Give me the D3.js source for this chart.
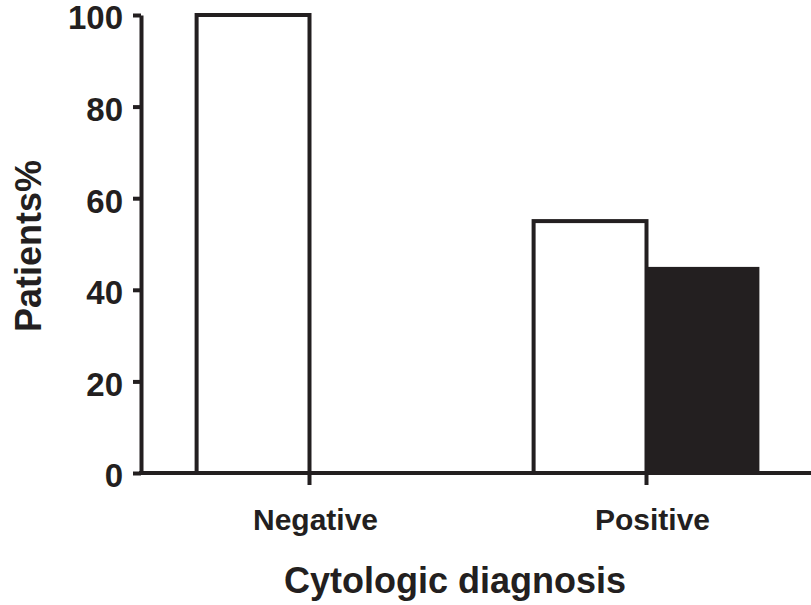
<!DOCTYPE html>
<html>
<head>
<meta charset="utf-8">
<script src="https://cdn.jsdelivr.net/npm/d3@7"></script>
<style>
  body { margin: 0; background: #fff; }
  text { font-family: "Liberation Sans", Arial, sans-serif; font-weight: bold; fill: #231f20; }
</style>
</head>
<body>
<div id="wrapper"></div>
<script>
const categories = ["Negative", "Positive"];
const series = ["open", "filled"];
const openValues = [100, 55];
const filledValues = [0, 45];
const yTicks = [0, 20, 40, 60, 80, 100];

const width = 811, height = 605;
const ink = "#231f20";

const svg = d3.select("#wrapper").append("svg")
  .attr("width", width)
  .attr("height", height);

const x = d3.scaleBand()
  .domain(categories)
  .range([141, 815])
  .paddingInner(0.33)
  .paddingOuter(0.165);

const xSub = d3.scaleBand()
  .domain(series)
  .range([0, x.bandwidth()]);

const y = d3.scaleLinear()
  .domain([0, 100])
  .range([473, 15]);

const rows = categories.map((c, i) => ({
  category: c,
  values: [
    { key: "open", value: openValues[i] },
    { key: "filled", value: filledValues[i] }
  ]
}));

// bars
const groups = svg.append("g")
  .selectAll("g")
  .data(rows)
  .join("g")
  .attr("transform", d => "translate(" + x(d.category) + ",0)");

groups.selectAll("rect")
  .data(d => d.values.filter(v => v.value > 0))
  .join("rect")
  .attr("x", d => xSub(d.key))
  .attr("y", d => y(d.value))
  .attr("width", xSub.bandwidth())
  .attr("height", d => y(0) - y(d.value))
  .attr("fill", d => d.key === "open" ? "#fff" : ink)
  .attr("stroke", ink)
  .attr("stroke-width", d => d.key === "open" ? 4 : 0);

// y axis
const yAxis = svg.append("g")
  .attr("transform", "translate(141,0)")
  .call(d3.axisLeft(y).tickValues(yTicks).tickSize(8).tickSizeOuter(0).tickPadding(10));

yAxis.select(".domain").attr("stroke", ink).attr("stroke-width", 4);
yAxis.selectAll(".tick line").attr("stroke", ink).attr("stroke-width", 4);
yAxis.selectAll(".tick text")
  .attr("dy", "0.42em")
  .style("font-size", "33px")
  .style("font-family", "'Liberation Sans', Arial, sans-serif")
  .style("font-weight", "bold")
  .attr("fill", ink);

// x axis
const xAxis = svg.append("g")
  .attr("transform", "translate(0,473)")
  .call(d3.axisBottom(x).tickSize(12).tickSizeOuter(0).tickPadding(24));

xAxis.select(".domain")
  .attr("d", "M139,0H" + width)
  .attr("stroke", ink).attr("stroke-width", 4);
xAxis.selectAll(".tick line").attr("stroke", ink).attr("stroke-width", 4);
xAxis.selectAll(".tick text")
  .attr("dx", 6)
  .style("font-size", "30px")
  .style("font-family", "'Liberation Sans', Arial, sans-serif")
  .style("font-weight", "bold")
  .attr("fill", ink);

// axis titles
svg.append("text")
  .attr("x", 455)
  .attr("y", 593)
  .attr("text-anchor", "middle")
  .style("font-size", "36px")
  .text("Cytologic diagnosis");

svg.append("text")
  .attr("transform", "translate(41,246) rotate(-90)")
  .attr("text-anchor", "middle")
  .style("font-size", "36px")
  .text("Patients%");
</script>
</body>
</html>
